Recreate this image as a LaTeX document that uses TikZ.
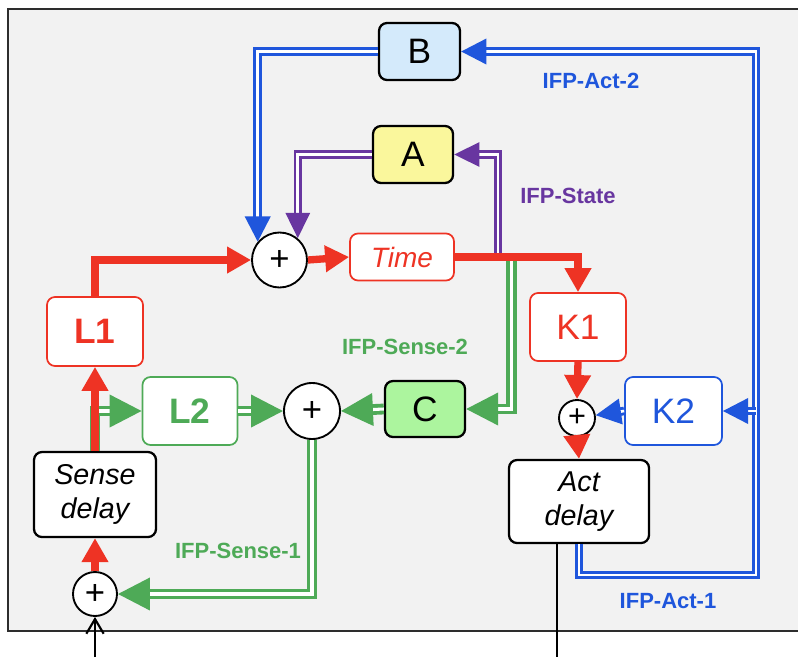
\documentclass[tikz,border=0pt]{standalone}
\usepackage{fontspec}
\setmainfont{Liberation Sans}
\usetikzlibrary{arrows.meta, calc}

\definecolor{ifpred}{RGB}{238,51,36}
\definecolor{ifpgreen}{RGB}{78,170,87}
\definecolor{ifpblue}{RGB}{31,86,220}
\definecolor{ifppurple}{RGB}{104,54,160}
\definecolor{fillB}{RGB}{212,234,251}
\definecolor{fillA}{RGB}{250,247,156}
\definecolor{fillC}{RGB}{172,245,158}
\definecolor{panel}{RGB}{242,242,242}
\definecolor{framegray}{RGB}{45,45,45}

\begin{document}
\begin{tikzpicture}[
    x=0.75pt, y=-0.75pt,
    box/.style={
        rectangle,
        rounded corners=6pt,
        draw=black,
        fill=white,
        line width=1.7pt,
        inner sep=0pt,
        align=center,
        font=\fontsize{26.5}{30}\selectfont
    },
    redbox/.style={
        box,
        draw=ifpred,
        text=ifpred,
        line width=1.3pt
    },
    greenbox/.style={
        box,
        draw=ifpgreen,
        text=ifpgreen,
        line width=1.3pt
    },
    bluebox/.style={
        box,
        draw=ifpblue,
        text=ifpblue,
        line width=1.3pt
    },
    delaybox/.style={
        box,
        font=\itshape\fontsize{21.5}{26}\selectfont
    },
    sum/.style={
        circle,
        draw=black,
        fill=white,
        line width=1.4pt,
        inner sep=0pt,
        font=\fontsize{26}{26}\selectfont,
        node contents={+}
    },
    redflow/.style={
        draw=ifpred,
        line width=5.5pt,
        -{Triangle[length=18pt, width=19pt]}
    },
    doubleflow/.style={
        line width=2.2pt,
        double=white,
        double distance=2pt
    },
    greenflow/.style={
        doubleflow,
        draw=ifpgreen,
        line width=2.9pt,
        double distance=2.3pt,
        -{Triangle[length=24pt, width=24pt]}
    },
    blueflow/.style={
        doubleflow,
        draw=ifpblue,
        -{Triangle[length=19pt, width=19pt]}
    },
    purpleflow/.style={
        doubleflow,
        draw=ifppurple,
        -{Triangle[length=19pt, width=18pt]}
    },
    plain/.style={
        draw=black,
        line width=1.6pt
    },
    flowlabel/.style={
        font=\bfseries\fontsize{16.5}{18}\selectfont
    }
]

    \useasboundingbox (0,0) rectangle (798,657);

    % Panel
    \draw[framegray, fill=panel, line width=2.1pt] (8,9) rectangle (840,631);

    % Top blocks
    \node[box, fill=fillB, minimum width=60.75pt, minimum height=42.75pt] (B) at (419.5,51.5) {B};
    \node[box, fill=fillA, minimum width=60pt, minimum height=42.75pt] (A) at (413,154.5) {A};

    % Time loop
    \node (sumT) [sum, at={(279.5,260)}, minimum size=41.25pt];
    \node[redbox, font=\itshape\fontsize{21}{22}\selectfont, minimum width=78pt, minimum height=35.25pt] (time) at (402,257) {Time};
    \node[redbox, font=\bfseries\fontsize{26.5}{30}\selectfont, minimum width=72pt, minimum height=51.75pt] (L1) at (95,331.5) {L1};

    % Sense side
    \node[greenbox, font=\bfseries\fontsize{26.5}{30}\selectfont, minimum width=71.25pt, minimum height=51pt] (L2) at (190,411) {L2};
    \node (sumM) [sum, at={(312,411)}, minimum size=42pt];
    \node[box, fill=fillC, minimum width=60pt, minimum height=42pt] (C) at (425,409) {C};
    \node[delaybox, minimum width=91.5pt, minimum height=63.75pt] (sense) at (95,494.5) {Sense\\delay};
    \node (sumS) [sum, at={(95,594)}, minimum size=33pt];

    % Act side
    \node[redbox, minimum width=72pt, minimum height=51pt] (K1) at (578,327) {K1};
    \node (sumK) [sum, at={(577,418)}, minimum size=27pt, font=\fontsize{23}{23}\selectfont];
    \node[bluebox, minimum width=72.75pt, minimum height=51pt] (K2) at (673.5,411) {K2};
    \node[delaybox, minimum width=105pt, minimum height=62.25pt] (act) at (579,501.5) {Act\\delay};

    % Free ends
    \coordinate (sensein) at (95,657);
    \coordinate (actout) at (557,657);
    \coordinate (tapA) at ($(time.east)+(43,0)$);
    \coordinate (tapC) at ($(time.east)+(57,0)$);
    \coordinate (loopR) at (756,575);
    \coordinate (tapK) at (loopR |- K2.east);

    % Black in and out
    \draw[plain, -{Straight Barb[length=11pt, width=13pt, line width=1.6pt]}] (sensein) -- (sumS);
    \draw[plain] (act.south -| actout) -- (actout);

    % IFP-Sense-1 and IFP-Sense-2
    \draw[greenflow] (sense.north) |- (L2.west);
    \draw[greenflow] (L2.east) -- (sumM.west);
    \draw[greenflow] (C.west) -- (sumM.east);
    \draw[greenflow] (sumM.south) |- (sumS.east);
    \draw[greenflow] (tapC) |- (C.east);

    % IFP-State
    \draw[purpleflow] (tapA) |- (A.east);
    \draw[purpleflow] (A.west) -| (sumT.50);

    % IFP-Act-1 and IFP-Act-2
    \draw[blueflow] (act.south) |- (loopR) |- (B.east);
    \draw[blueflow] (tapK) -- (K2.east);
    \draw[blueflow] (B.west) -| (sumT.140);
    \draw[blueflow] (K2.west) -- (sumK);

    % Main red path
    \draw[redflow] (sumS.north) -- (sense.south);
    \draw[redflow] (sense.north) -- (L1.south);
    \draw[redflow] (L1.north) |- (sumT.west);
    \draw[redflow] (sumT.east) -- (time.west);
    \draw[redflow] (time.east) -| (K1.north);
    \draw[redflow] (K1.south) -- (sumK.north);
    \draw[redflow] (sumK.south) -- (act.north);

    % Labels
    \node[flowlabel, text=ifpblue] (lblAct2) at (591,81) {IFP-Act-2};
    \node[flowlabel, text=ifppurple] (lblState) at (568,196) {IFP-State};
    \node[flowlabel, text=ifpgreen] (lblSense2) at (405,347) {IFP-Sense-2};
    \node[flowlabel, text=ifpgreen] (lblSense1) at (238,551) {IFP-Sense-1};
    \node[flowlabel, text=ifpblue] (lblAct1) at (668,601) {IFP-Act-1};

\end{tikzpicture}
\end{document}
